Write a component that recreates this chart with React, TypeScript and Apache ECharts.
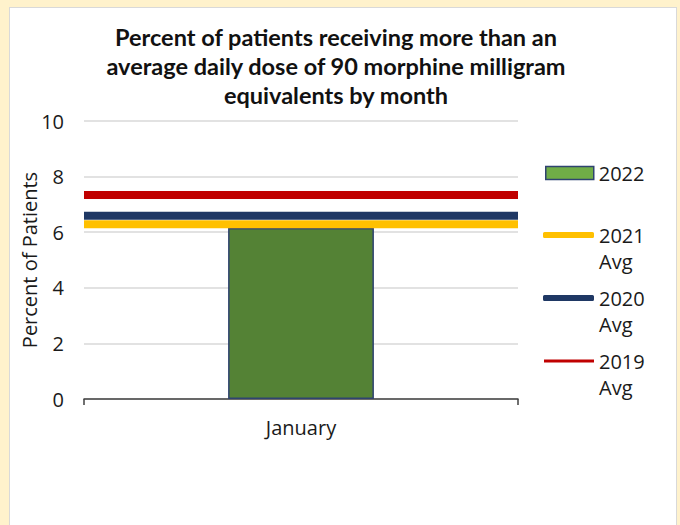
import React, { useEffect, useRef } from "react";
import * as echarts from "echarts";

const categories = ["January"];
const values2022 = [6.15];
const avg2021 = 6.29;
const avg2020 = 6.59;
const avg2019 = 7.34;
const yTicks = [0, 2, 4, 6, 8, 10];

const FONT = "'Open Sans', 'Noto Sans', sans-serif";

export default function App() {
  const ref = useRef<HTMLDivElement>(null);
  useEffect(() => {
    if (!ref.current) return;
    const chart = echarts.init(ref.current, undefined, { renderer: "svg" });
    const lineSeries = (name: string, v: number, color: string, z: number) => ({
      name,
      type: "line",
      xAxisIndex: 1,
      data: [
        [0, v],
        [1, v],
      ],
      symbol: "none",
      lineStyle: { color, width: 8, cap: "butt" },
      itemStyle: { color },
      z,
    });
    const legendText = {
      fontFamily: FONT,
      fontSize: 20,
      color: "#1a1a1a",
      lineHeight: 26,
    };
    chart.setOption({
      animation: false,
      backgroundColor: "transparent",
      title: {
        text: "Percent of patients receiving more than an\naverage daily dose of 90 morphine milligram\nequivalents by month",
        left: 331,
        textAlign: "center",
        top: 17,
        textStyle: {
          fontFamily: "Lato, sans-serif",
          fontWeight: "bold",
          fontSize: 23.5,
          lineHeight: 29,
          color: "#111",
        },
      },
      grid: { left: 84, right: 162, top: 121, bottom: 126 },
      xAxis: [
        {
          type: "category",
          data: categories,
          axisLine: { lineStyle: { color: "#404040", width: 1.5 } },
          axisTick: { show: true, length: 6, lineStyle: { color: "#404040", width: 1.5 } },
          axisLabel: { fontFamily: FONT, fontSize: 20, color: "#1a1a1a", margin: 18 },
        },
        { type: "value", min: 0, max: 1, show: false },
      ],
      yAxis: {
        type: "value",
        min: 0,
        max: 10,
        interval: 2,
        name: "Percent of Patients",
        nameLocation: "middle",
        nameGap: 45,
        nameMoveOverlap: false,
        nameTextStyle: { fontFamily: FONT, fontSize: 20, color: "#1a1a1a" },
        axisLine: { show: false },
        axisTick: { show: false },
        axisLabel: {
          fontFamily: FONT,
          fontSize: 20,
          color: "#1a1a1a",
          margin: 20,
          formatter: (v: number) => (yTicks.includes(v) ? String(v) : ""),
        },
        splitLine: { lineStyle: { color: "#D9D9D9", width: 1.5 } },
      },
      legend: [
        {
          data: [{ name: "2022", itemStyle: { color: "#70AD47", borderColor: "#2F4370", borderWidth: 1.5 } }],
          left: 545,
          top: 160,
          padding: 0,
          itemWidth: 48,
          itemHeight: 13,
          itemGap: 0,
          icon: "rect",
          textStyle: legendText,
        },
        {
          data: [{ name: "2021 Avg", icon: "roundRect" }],
          formatter: () => " \n2021\nAvg",
          left: 543,
          top: 196,
          padding: 0,
          itemWidth: 51,
          itemHeight: 6,
          textStyle: legendText,
        },
        {
          data: [{ name: "2020 Avg", icon: "roundRect" }],
          formatter: () => " \n2020\nAvg",
          left: 543,
          top: 259,
          padding: 0,
          itemWidth: 51,
          itemHeight: 6,
          textStyle: legendText,
        },
        {
          data: [{ name: "2019 Avg", icon: "rect" }],
          formatter: () => " \n2019\nAvg",
          left: 544,
          top: 322,
          padding: 0,
          itemWidth: 50,
          itemHeight: 3,
          textStyle: legendText,
        },
      ],
      series: [
        {
          name: "2022",
          type: "bar",
          data: values2022,
          barWidth: "33.6%",
          itemStyle: { color: "#548235", borderColor: "#2F4370", borderWidth: 1.5 },
          z: 2,
        },
        lineSeries("2021 Avg", avg2021, "#FFC000", 3),
        lineSeries("2020 Avg", avg2020, "#1F3864", 4),
        lineSeries("2019 Avg", avg2019, "#C00000", 5),
      ],
    });
    return () => chart.dispose();
  }, []);
  return (
    <div
      style={{
        position: "fixed",
        left: 0,
        top: 0,
        width: 680,
        height: 525,
        background: "#FFF2CC",
        overflow: "hidden",
      }}
    >
      <div
        style={{
          position: "absolute",
          left: 9,
          top: 7,
          width: 666,
          height: 540,
          background: "#fff",
          border: "1.5px solid #D9D9D9",
        }}
      />
      <div ref={ref} style={{ position: "absolute", left: 0, top: 0, width: 680, height: 525 }} />
    </div>
  );
}
